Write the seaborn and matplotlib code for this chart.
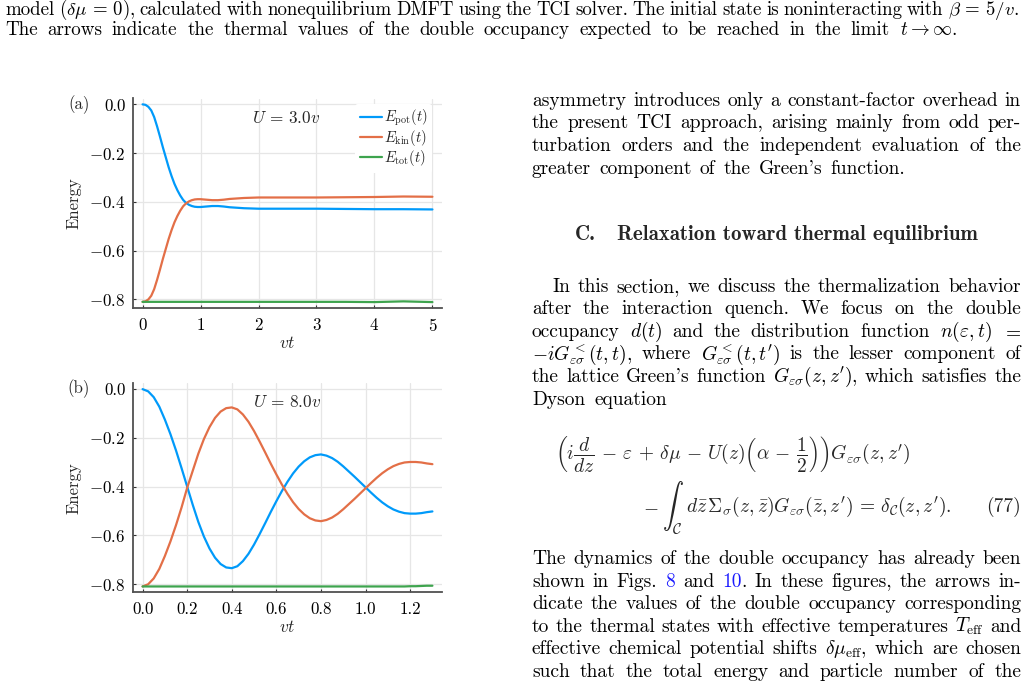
import matplotlib
matplotlib.use("Agg")
import matplotlib.pyplot as plt
import seaborn as sns

# === DATA ===
# panel (a): U = 3.0v
t_a = [0.0, 0.05, 0.1, 0.15, 0.2, 0.25, 0.3, 0.35, 0.4, 0.45, 0.5, 0.55, 0.6, 0.65, 0.7, 0.75,
       0.8, 0.85, 0.9, 0.95, 1.0, 1.05, 1.1, 1.15, 1.2,
       1.3, 1.4, 1.5, 1.75, 2.0, 2.5, 3.0, 3.5, 4.0, 4.5, 5.0]
epot_a = [0.0, -0.002, -0.010, -0.025, -0.052, -0.090, -0.132, -0.176, -0.217, -0.258, -0.294,
          -0.326, -0.352, -0.374, -0.392, -0.404, -0.412, -0.417, -0.420, -0.421, -0.421, -0.420,
          -0.419, -0.418, -0.417,
          -0.417, -0.419, -0.422, -0.426, -0.428, -0.428, -0.428, -0.429, -0.430, -0.430, -0.431]
ekin_a = [-0.810, -0.808, -0.800, -0.785, -0.758, -0.720, -0.678, -0.634, -0.593, -0.552, -0.516,
          -0.484, -0.458, -0.436, -0.418, -0.406, -0.398, -0.393, -0.390, -0.389, -0.389, -0.390,
          -0.391, -0.392, -0.393,
          -0.393, -0.391, -0.388, -0.384, -0.382, -0.382, -0.382, -0.381, -0.380, -0.378, -0.379]
etot_a = [-0.81] * 33 + [-0.811, -0.808, -0.811]

# panel (b): U = 8.0v
t_b = [0.0, 0.025, 0.05, 0.075, 0.1, 0.125, 0.15, 0.175, 0.2, 0.225, 0.25, 0.275, 0.3, 0.325,
       0.35, 0.375, 0.4, 0.425, 0.45, 0.475, 0.5, 0.525, 0.55, 0.575, 0.6, 0.625, 0.65, 0.675,
       0.7, 0.725, 0.75, 0.775, 0.8, 0.825, 0.85, 0.875, 0.9, 0.925, 0.95, 0.975, 1.0, 1.025,
       1.05, 1.075, 1.1, 1.125, 1.15, 1.175, 1.2, 1.225, 1.25, 1.275, 1.3]
epot_b = [0.000, -0.009, -0.033, -0.072, -0.125, -0.185, -0.252, -0.325, -0.400, -0.475, -0.545,
          -0.605, -0.654, -0.692, -0.718, -0.732, -0.735, -0.727, -0.706, -0.676, -0.638, -0.595,
          -0.550, -0.504, -0.460, -0.418, -0.380, -0.346, -0.318, -0.296, -0.280, -0.271, -0.268,
          -0.273, -0.283, -0.298, -0.317, -0.338, -0.359, -0.381, -0.403, -0.425, -0.446, -0.465,
          -0.481, -0.494, -0.503, -0.509, -0.511, -0.511, -0.509, -0.505, -0.502]
ekin_b = [-0.810, -0.801, -0.777, -0.738, -0.685, -0.625, -0.558, -0.485, -0.405, -0.335, -0.265,
          -0.205, -0.156, -0.118, -0.092, -0.078, -0.075, -0.083, -0.104, -0.134, -0.172, -0.215,
          -0.260, -0.306, -0.350, -0.392, -0.430, -0.464, -0.492, -0.514, -0.530, -0.539, -0.542,
          -0.537, -0.527, -0.512, -0.493, -0.472, -0.451, -0.429, -0.407, -0.385, -0.364, -0.345,
          -0.329, -0.316, -0.307, -0.301, -0.299, -0.299, -0.301, -0.305, -0.308]
etot_b = [-0.81] * 48 + [-0.809, -0.809, -0.808, -0.807, -0.807]

labels = [r"$E_{\mathrm{pot}}(t)$", r"$E_{\mathrm{kin}}(t)$", r"$E_{\mathrm{tot}}(t)$"]
colors = ["#009AFA", "#E36F47", "#3EA44E"]

caption = [
    r"model ($\delta\mu\,=\,0$), calculated with nonequilibrium DMFT using the TCI solver. The initial state is noninteracting with $\beta\,=\,5/v$.",
    r"The arrows indicate the thermal values of the double occupancy expected to be reached in the limit $t \to \infty$.",
]
para1 = [
    "asymmetry introduces only a constant-factor overhead in",
    "the present TCI approach, arising mainly from odd per-",
    "turbation orders and the independent evaluation of the",
    "greater component of the Green's function.",
]
para2 = [
    "In this section, we discuss the thermalization behavior",
    "after the interaction quench.  We focus on the double",
    r"occupancy $d(t)$ and the distribution function $n(\varepsilon,t)$ $=$",
    r"$-iG^{<}_{\varepsilon\sigma}(t,t)$, where $G^{<}_{\varepsilon\sigma}(t,t^\prime)$ is the lesser component of",
    r"the lattice Green's function $G_{\varepsilon\sigma}(z,z^\prime)$, which satisfies the",
    "Dyson equation",
]
para3 = [
    "The dynamics of the double occupancy has already been",
    "shown in Figs. #8# and #10#. In these figures, the arrows in-",
    "dicate the values of the double occupancy corresponding",
    r"to the thermal states with effective temperatures $T_{\mathrm{eff}}$ and",
    r"effective chemical potential shifts $\delta\mu_{\mathrm{eff}}$, which are chosen",
    "such that the total energy and particle number of the",
]

# === STYLE ===
sns.set_theme(style="white")
plt.rcParams["font.family"] = ["cmr10", "DejaVu Serif"]
plt.rcParams["mathtext.fontset"] = "cm"
plt.rcParams["axes.formatter.use_mathtext"] = True
plt.rcParams["axes.unicode_minus"] = True

W, H = 1029, 683
fig = plt.figure(figsize=(W / 100, H / 100), dpi=100)
renderer = fig.canvas.get_renderer()
BODY = 14.0
CAP = 13.7


def split_words(s):
    words, cur, inmath = [], "", False
    for ch in s:
        if ch == "$":
            inmath = not inmath
        if ch == " " and not inmath:
            if cur:
                words.append(cur)
            cur = ""
        else:
            cur += ch
    if cur:
        words.append(cur)
    return words


def put_line(s, y, x0, x1, size=BODY, family=None):
    # justified line of text, word by word (pixel coords, y = baseline from top)
    family = family or ["cmr10", "DejaVu Serif"]
    size0 = size
    while True:
        items = []
        for w in split_words(s):
            arts = []
            for k, seg in enumerate(w.split("#")):
                if not seg:
                    continue
                col = "#1a1aff" if k % 2 else "black"
                arts.append(fig.text(0, 1 - y / H, seg, fontsize=size, family=family,
                                     color=col, va="baseline", ha="left"))
            items.append(arts)
        widths = [[a.get_window_extent(renderer).width for a in arts] for arts in items]
        total = sum(sum(ws) for ws in widths)
        gap = (x1 - x0 - total) / max(len(items) - 1, 1)
        if gap >= 0.22 * size * 100 / 72 or size < 0.85 * size0:
            break
        for arts in items:
            for a in arts:
                a.remove()
        size *= 0.99
    x = x0
    for arts, ws in zip(items, widths):
        for a, w in zip(arts, ws):
            a.set_x(x / W)
            x += w
        x += gap


# caption on top
put_line(caption[0], 15.4, 5, 1019, size=CAP)
put_line(caption[1], 35.2, 5, 957, size=CAP)

# right column text
X0, X1, LS = 532, 1021, 22.6
ends1 = [X1, X1, X1, 905]
for i, line in enumerate(para1):
    put_line(line, 105.7 + i * LS, X0, ends1[i])

fig.text(575 / W, 1 - 240 / H, "C.", fontsize=15.0, family="cmb10", va="baseline")
fig.text(617 / W, 1 - 240 / H, "Relaxation toward thermal equilibrium", fontsize=15.0,
         family="cmb10", va="baseline")

ends2 = [X1, X1, X1, X1, X1, 667]
for i, line in enumerate(para2):
    x0 = 552 if i == 0 else X0
    put_line(line, 291.7 + i * LS, x0, ends2[i])

# Dyson equation (77)
fig.text(555 / W, 1 - 460 / H,
         r"$\left(i\dfrac{d}{dz}\,-\,\varepsilon\,+\,\delta\mu\,-\,U(z)\left(\alpha\,-\,\dfrac{1}{2}\right)\right)G_{\varepsilon\sigma}(z,z^\prime)$",
         fontsize=BODY, va="baseline", ha="left")
fig.text(643 / W, 1 - 511.7 / H, r"$-$", fontsize=BODY, va="baseline", ha="left")
integ = fig.text(662 / W, 1 - 508 / H, r"$\int_{\mathcal{C}}$", fontsize=15.2,
                 va="center", ha="left")
ix = integ.get_window_extent(renderer).x1
fig.text((ix + 2) / W, 1 - 511.7 / H,
         r"$d\bar{z}\,\Sigma_{\sigma}(z,\bar{z})G_{\varepsilon\sigma}(\bar{z},z^\prime)\,=\,\delta_{\mathcal{C}}(z,z^\prime).$",
         fontsize=BODY, va="baseline", ha="left")
fig.text(1021 / W, 1 - 511.7 / H, "(77)", fontsize=BODY, va="baseline", ha="right")

for i, line in enumerate(para3):
    put_line(line, 564 + i * LS, X0, X1)

# === PLOTS ===
panels = [
    ("(a)", t_a, [epot_a, ekin_a, etot_a], 98.5, 307.7, [0, 1, 2, 3, 4, 5], (-0.165, 5.165),
     r"$U\,=\,3.0v$", (2.47, -0.056)),
    ("(b)", t_b, [epot_b, ekin_b, etot_b], 383.3, 592.3, [0.0, 0.2, 0.4, 0.6, 0.8, 1.0, 1.2],
     (-0.043, 1.343), r"$U\,=\,8.0v$", (0.646, -0.052)),
]
for tag, t, series, top, bot, xt, xl, utext, upos in panels:
    ax = fig.add_axes([133 / W, 1 - bot / H, 309 / W, (bot - top) / H])
    for ys, c, lab in zip(series, colors, labels):
        sns.lineplot(x=t, y=ys, ax=ax, color=c, lw=1.6, label=lab, estimator=None, sort=False)
    ax.set_xlim(*xl)
    ax.set_ylim(-0.834, 0.024)
    ax.set_xticks(xt)
    if tag == "(b)":
        ax.set_xticklabels(["0.0", "0.2", "0.4", "0.6", "0.8", "1.0", "1.2"])
    ax.set_yticks([0.0, -0.2, -0.4, -0.6, -0.8])
    ax.set_yticklabels(["0.0", "$-0.2$", "$-0.4$", "$-0.6$", "$-0.8$"])
    ax.grid(True, color="#e6e6e6", lw=0.9)
    for s in ["top", "right"]:
        ax.spines[s].set_visible(False)
    for s in ["left", "bottom"]:
        ax.spines[s].set_color("#505050")
        ax.spines[s].set_linewidth(1.3)
    ax.tick_params(direction="in", length=2.5, width=0.8, color="#333333", labelsize=12.2,
                   labelcolor="black", left=True, bottom=True)
    ax.tick_params(axis="x", pad=6.5)
    ax.tick_params(axis="y", pad=5.5)
    ax.set_xlabel(r"$vt$", fontsize=12.5)
    ax.set_ylabel("Energy", fontsize=12)
    ax.xaxis.set_label_coords(0.5, -0.13)
    ax.yaxis.set_label_coords(-0.166, 0.5)
    ax.text(upos[0], upos[1], utext, fontsize=12.4, ha="center", va="center")
    fig.text(79 / W, 1 - (top + 5.8) / H, tag, fontsize=12.2, ha="center", va="center")
    if tag == "(a)":
        ax.legend(loc="upper right", bbox_to_anchor=(0.967, 0.975), borderaxespad=0,
                  frameon=True, facecolor="white", edgecolor="none", framealpha=1,
                  fontsize=10.5, handlelength=1.5, handletextpad=0.15, labelspacing=0.0,
                  borderpad=0.3)
    else:
        ax.get_legend().remove()

fig.savefig("out.png", dpi=100)
